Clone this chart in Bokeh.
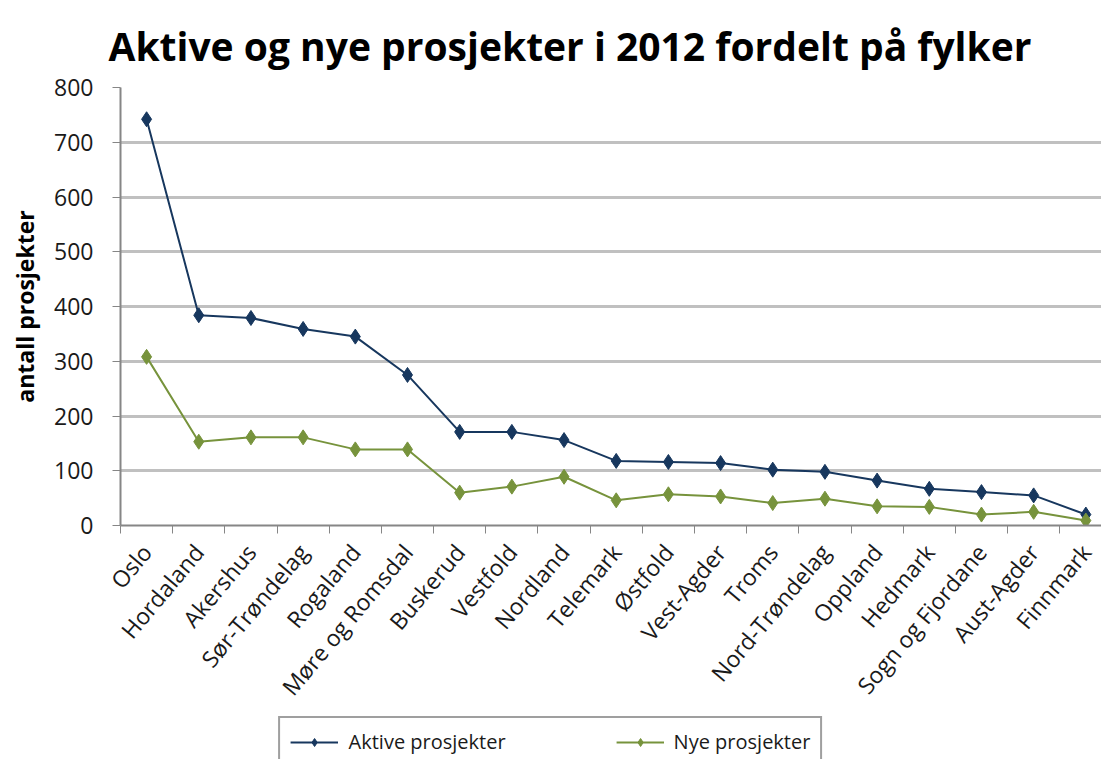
import math
from bokeh.plotting import figure
from bokeh.layouts import column
from bokeh.models import (ColumnDataSource, Range1d, FixedTicker, Legend, LegendItem, Title)
from bokeh.embed import file_html
from bokeh.resources import INLINE

fylker = ["Oslo", "Hordaland", "Akershus", "Sør-Trøndelag", "Rogaland", "Møre og Romsdal",
          "Buskerud", "Vestfold", "Nordland", "Telemark", "Østfold", "Vest-Agder", "Troms",
          "Nord-Trøndelag", "Oppland", "Hedmark", "Sogn og Fjordane", "Aust-Agder", "Finnmark"]
aktive = [742, 384, 379, 359, 345, 275, 171, 171, 156, 118, 116, 114, 102, 98, 82, 67, 61, 55, 20]
nye = [308, 153, 161, 161, 139, 139, 60, 71, 89, 46, 57, 53, 41, 49, 35, 34, 20, 25, 9]
y_ticks = [0, 100, 200, 300, 400, 500, 600, 700, 800]

idx = list(range(len(fylker)))
src = ColumnDataSource(dict(x=idx, aktive=aktive, nye=nye))

FONT = "Open Sans"
BLUE = "#17375e"
GREEN = "#77933c"

p = figure(frame_width=981, frame_height=438, output_backend="svg", toolbar_location=None,
           x_range=Range1d(-0.5, 18.3), y_range=Range1d(0, 800),
           min_border_left=120, min_border_top=80, min_border_right=0, min_border_bottom=0)
p.outline_line_color = None

p.title = Title(text="Aktive og nye prosjekter i 2012 fordelt på fylker", text_font=FONT,
                text_font_size="39px", text_font_style="bold", text_color="#000000",
                align="left", offset=-12, standoff=32)

p.line("x", "aktive", source=src, line_color=BLUE, line_width=2)
p.scatter("x", "aktive", source=src, marker="diamond", size=15, fill_color=BLUE, line_color=BLUE)
p.line("x", "nye", source=src, line_color=GREEN, line_width=2)
p.scatter("x", "nye", source=src, marker="diamond", size=15, fill_color=GREEN, line_color=GREEN)

# y axis
p.yaxis.ticker = FixedTicker(ticks=y_ticks)
p.yaxis.axis_label = "antall prosjekter"
p.yaxis.axis_label_text_font = FONT
p.yaxis.axis_label_text_font_size = "23px"
p.yaxis.axis_label_text_font_style = "bold"
p.yaxis.axis_label_text_color = "#000000"
p.yaxis.axis_label_standoff = 10
p.yaxis.major_label_text_font = FONT
p.yaxis.major_label_text_font_size = "23px"
p.yaxis.major_label_text_color = "#1a1a1a"
p.yaxis.axis_line_color = "#868686"
p.yaxis.axis_line_width = 2
p.yaxis.major_tick_line_color = "#868686"
p.yaxis.major_tick_out = 8
p.yaxis.major_tick_in = 0
p.yaxis.minor_tick_line_color = None
p.yaxis.major_label_standoff = 19

# x axis
p.xaxis.ticker = FixedTicker(ticks=idx, minor_ticks=[i - 0.5 for i in range(len(fylker) + 1)])
p.xaxis.major_label_overrides = {i: f for i, f in enumerate(fylker)}
p.xaxis.major_label_orientation = math.radians(50)
p.xaxis.major_label_text_font = FONT
p.xaxis.major_label_text_font_size = "23px"
p.xaxis.major_label_text_color = "#1a1a1a"
p.xaxis.major_tick_line_color = None
p.xaxis.minor_tick_line_color = "#868686"
p.xaxis.minor_tick_out = 8
p.xaxis.minor_tick_in = 0
p.xaxis.axis_line_color = "#868686"
p.xaxis.axis_line_width = 2
p.xaxis.major_label_standoff = 14

p.xgrid.grid_line_color = None
p.ygrid.ticker = FixedTicker(ticks=y_ticks)
p.ygrid.grid_line_color = "#c0c0c0"
p.ygrid.grid_line_width = 3

# legend strip below the chart (series drawn outside its visible range; only the legend shows)
pl = figure(frame_width=1067, frame_height=44, output_backend="svg", toolbar_location=None,
            x_range=Range1d(-0.5, 18.3), y_range=Range1d(2000, 3000),
            min_border_left=34, min_border_right=0, min_border_top=0, min_border_bottom=0)
pl.outline_line_color = None
pl.axis.visible = False
pl.grid.grid_line_color = None
g1 = pl.line("x", "aktive", source=src, line_color=BLUE, line_width=2)
g1m = pl.scatter("x", "aktive", source=src, marker="diamond", size=13, fill_color=BLUE, line_color=BLUE)
g2 = pl.line("x", "nye", source=src, line_color=GREEN, line_width=2)
g2m = pl.scatter("x", "nye", source=src, marker="diamond", size=13, fill_color=GREEN, line_color=GREEN)

legend = Legend(items=[LegendItem(label="Aktive prosjekter", renderers=[g1, g1m]),
                       LegendItem(label="Nye prosjekter", renderers=[g2, g2m])],
                orientation="horizontal", location="top_center", margin=1, padding=10,
                spacing=110, glyph_width=48, glyph_height=20, label_standoff=10,
                label_text_font=FONT, label_text_font_size="20px", label_text_color="#1a1a1a",
                border_line_color="#404040", border_line_width=2)
pl.add_layout(legend, "center")

layout = column(p, pl)
open("out.html", "w").write(file_html(layout, INLINE))
